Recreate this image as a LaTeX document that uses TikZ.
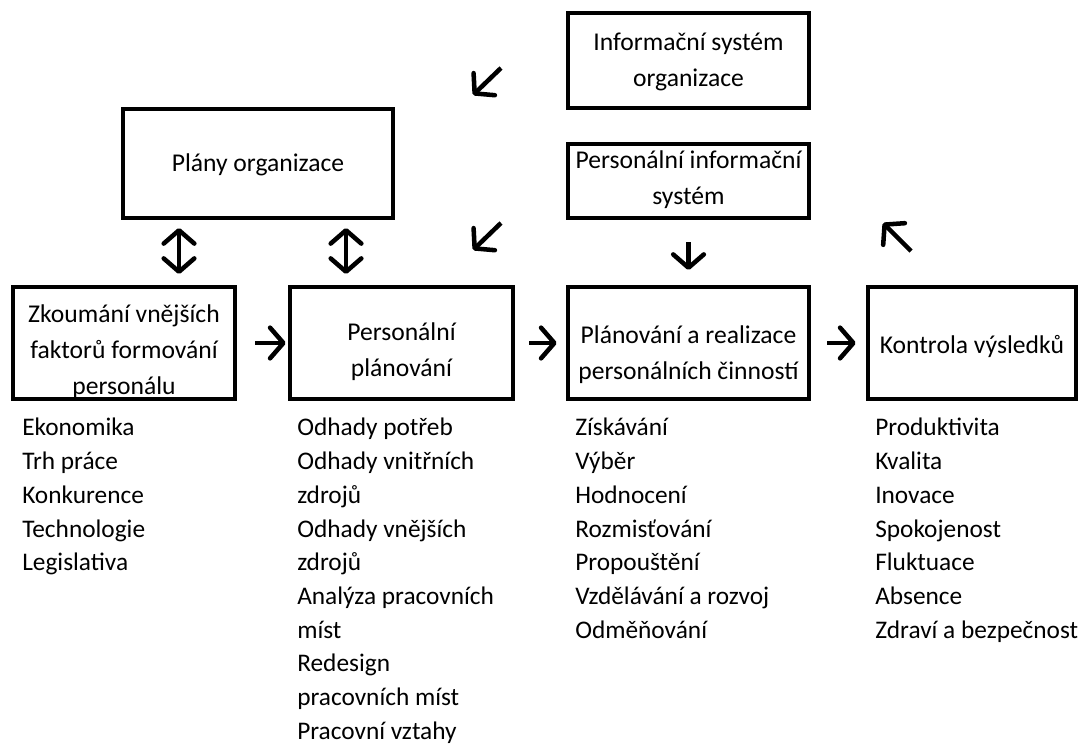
\documentclass[tikz,border=0pt]{standalone}
\usepackage{fontspec}
\setmainfont{Carlito}
\usetikzlibrary{arrows.meta}

\tikzset{
  box/.style={draw, line width=3.5pt, inner sep=0pt},
  txt/.style={font=\fontsize{19.2pt}{27pt}\selectfont, align=center, inner sep=0pt},
  item/.style={font=\fontsize{19pt}{25.7pt}\selectfont, inner sep=0pt, anchor=base west},
  barb/.tip={Straight Barb[length=10pt,width=23pt,round]},
  arr/.style={line width=3.4pt, -barb},
  dbl/.style={line width=3.4pt, barb-barb}
}

\begin{document}
\begin{tikzpicture}[x=0.75pt,y=-0.75pt]
\useasboundingbox (0,0) rectangle (1083,745);
% boxes
\node[box, minimum width=180.75pt, minimum height=71.25pt] (infosys) at (688.5,60.5) {};
\node[box, minimum width=180.75pt, minimum height=55.5pt] (pis) at (688.5,181) {};
\node[box, minimum width=202.5pt, minimum height=81.75pt] (plany) at (258,163.5) {};
\node[box, minimum width=166.5pt, minimum height=84pt] (zkoum) at (124,343) {};
\node[box, minimum width=167.25pt, minimum height=84pt] (persplan) at (401.5,343) {};
\node[box, minimum width=180.75pt, minimum height=84pt] (realiz) at (688.5,343) {};
\node[box, minimum width=156pt, minimum height=84pt] (kontrola) at (972,343) {};
% box texts
\node[txt] (tinfosys) at (688.5,62) {Informační systém\\organizace};
\node[txt] (tpis) at (688.5,180) {Personální informační\\systém};
\node[txt] (tplany) at (258,165) {Plány organizace};
\node[txt] (tzkoum) at (124,352) {Zkoumání vnějších\\faktorů formování\\personálu};
\node[txt] (tpersplan) at (401.5,352) {Personální\\plánování};
\node[txt] (trealiz) at (688.5,355) {Plánování a realizace\\personálních činností};
\node[txt] (tkontrola) at (972,346) {Kontrola výsledků};
% free arrows
\coordinate (d1a) at (501,68);  \coordinate (d1b) at (473,95);
\coordinate (d2a) at (501,223); \coordinate (d2b) at (473,250);
\coordinate (d3a) at (911,251); \coordinate (d3b) at (883,223);
\coordinate (u1a) at (179,228); \coordinate (u1b) at (179,274);
\coordinate (u2a) at (346,228); \coordinate (u2b) at (346,274);
\draw[arr] (d1a) -- (d1b);
\draw[arr] (d2a) -- (d2b);
\draw[arr] (d3a) -- (d3b);
\draw[dbl] (u1a) -- (u1b);
\draw[dbl] (u2a) -- (u2b);
\draw[arr, shorten <=16.5pt, shorten >=11pt] (pis) -- (realiz);
\draw[arr, shorten <=13.5pt, shorten >=1.5pt] (zkoum) -- (persplan);
\draw[arr, shorten <=10.5pt, shorten >=6.75pt] (persplan) -- (realiz);
\draw[arr, shorten <=12pt, shorten >=7.5pt] (realiz) -- (kontrola);
% lists
\foreach \t [count=\i] in {Ekonomika, Trh práce, Konkurence, Technologie, Legislativa}
  \node[item] (ek\i) at (22,{436+(\i-1)*33.7}) {\t};
\foreach \t [count=\i] in {Odhady potřeb, Odhady vnitřních, zdrojů, Odhady vnějších, zdrojů,
    Analýza pracovních, míst, Redesign, pracovních míst, Pracovní vztahy}
  \node[item] (od\i) at (297,{436+(\i-1)*33.7}) {\t};
\foreach \t [count=\i] in {Získávání, Výběr, Hodnocení, Rozmisťování, Propouštění,
    Vzdělávání a rozvoj, Odměňování}
  \node[item] (zi\i) at (575,{436+(\i-1)*33.7}) {\t};
\foreach \t [count=\i] in {Produktivita, Kvalita, Inovace, Spokojenost, Fluktuace,
    Absence, Zdraví a bezpečnost}
  \node[item] (pr\i) at (875,{436+(\i-1)*33.7}) {\t};
\end{tikzpicture}
\end{document}
